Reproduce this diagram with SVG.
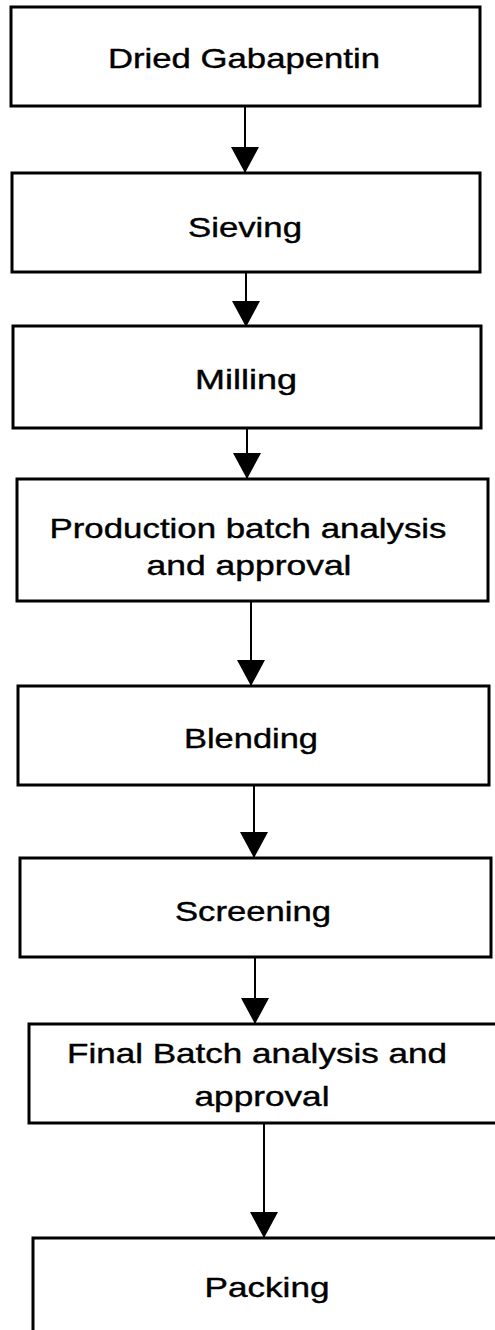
<svg xmlns="http://www.w3.org/2000/svg" width="495" height="1330" viewBox="0 0 495 1330">
<style>
.box{fill:#fff;stroke:#000;stroke-width:3}
.lbl{font-family:"Liberation Sans",Arial,sans-serif;font-size:28px;fill:#000;stroke:#000;stroke-width:0.4;text-anchor:middle}
.con{stroke:#000;stroke-width:2;fill:none;marker-end:url(#ah)}
</style>
<defs>
<marker id="ah" markerUnits="userSpaceOnUse" viewBox="0 0 26 28" refX="26" refY="14" markerWidth="26" markerHeight="28" orient="auto">
<path d="M0,0 L26,14 L0,28 z" fill="#000"/>
</marker>
</defs>
<rect width="495" height="1330" fill="#fff"/>
<g id="connectors">
<line class="con" x1="245" y1="106" x2="245" y2="173"/>
<line class="con" x1="246" y1="272" x2="246" y2="327"/>
<line class="con" x1="247" y1="428" x2="247" y2="479"/>
<line class="con" x1="251" y1="601" x2="251" y2="686"/>
<line class="con" x1="254" y1="785" x2="254" y2="858"/>
<line class="con" x1="255" y1="957" x2="255" y2="1024"/>
<line class="con" x1="264" y1="1123" x2="264" y2="1238"/>
</g>
<g id="n1"><rect class="box" x="11" y="7" width="469" height="99"/><text class="lbl" x="244" y="68" textLength="272" lengthAdjust="spacingAndGlyphs">Dried Gabapentin</text></g>
<g id="n2"><rect class="box" x="12" y="173" width="468" height="99"/><text class="lbl" x="245" y="237" textLength="114" lengthAdjust="spacingAndGlyphs">Sieving</text></g>
<g id="n3"><rect class="box" x="13" y="326" width="468" height="102"/><text class="lbl" x="246" y="389" textLength="102" lengthAdjust="spacingAndGlyphs">Milling</text></g>
<g id="n4"><rect class="box" x="17" y="479" width="471" height="122"/><text class="lbl" x="248" y="538" textLength="397" lengthAdjust="spacingAndGlyphs">Production batch analysis</text><text class="lbl" x="249" y="575" textLength="205" lengthAdjust="spacingAndGlyphs">and approval</text></g>
<g id="n5"><rect class="box" x="18" y="686" width="471" height="99"/><text class="lbl" x="251" y="748" textLength="134" lengthAdjust="spacingAndGlyphs">Blending</text></g>
<g id="n6"><rect class="box" x="20" y="858" width="471" height="99"/><text class="lbl" x="253" y="921" textLength="156" lengthAdjust="spacingAndGlyphs">Screening</text></g>
<g id="n7"><rect class="box" x="29" y="1024" width="480" height="99"/><text class="lbl" x="257" y="1063" textLength="380" lengthAdjust="spacingAndGlyphs">Final Batch analysis and</text><text class="lbl" x="262" y="1106" textLength="135" lengthAdjust="spacingAndGlyphs">approval</text></g>
<g id="n8"><rect class="box" x="33" y="1238" width="480" height="120"/><text class="lbl" x="267" y="1297" textLength="125" lengthAdjust="spacingAndGlyphs">Packing</text></g>
</svg>
